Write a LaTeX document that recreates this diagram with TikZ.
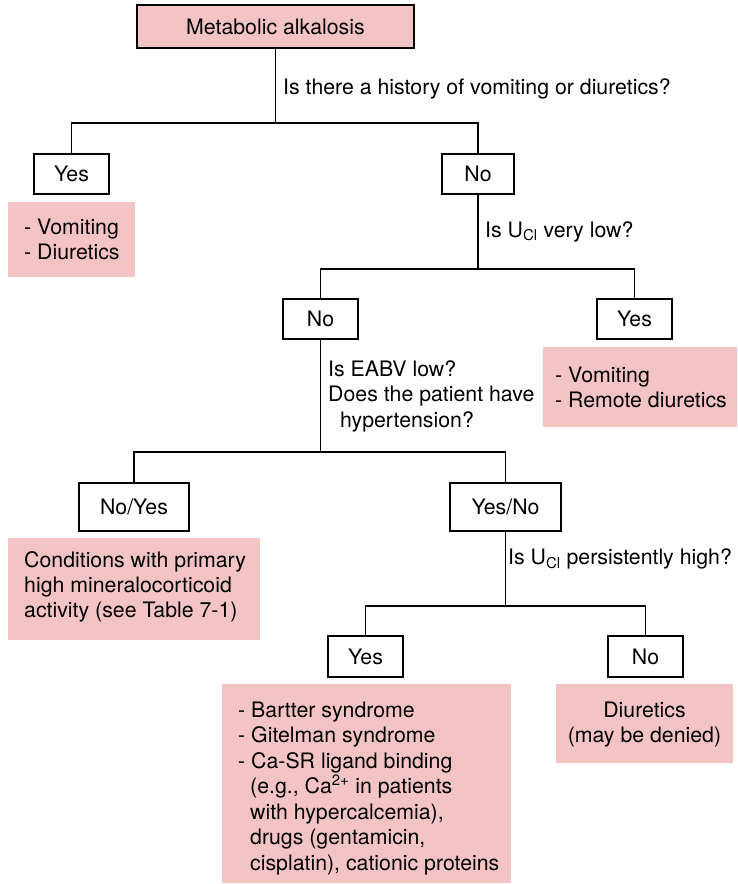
\documentclass[tikz,border=0pt]{standalone}
\usepackage{fontspec}
\setmainfont{TeX Gyre Heros}
\definecolor{pinkbg}{RGB}{244,196,196}
\begin{document}
\begin{tikzpicture}[x=1pt,y=-1pt,
  every node/.style={font=\fontsize{21.3}{25.5}\selectfont, inner sep=0pt},
  box/.style={draw=black, line width=1.3pt, fill=white, text height=15pt, text depth=0pt},
  pinkbox/.style={fill=pinkbg, anchor=north west},
  txt/.style={anchor=base west},
  ctxt/.style={anchor=base},
  conn/.style={line width=1.3pt}]
\useasboundingbox (0,0) rectangle (737,884);

% decision boxes
\node[box, fill=pinkbg, minimum width=277pt, minimum height=43pt] (top) at (275.5,26.5) {Metabolic alkalosis};
\node[box, minimum width=75pt, minimum height=40pt] (yes1) at (71.5,174) {Yes};
\node[box, minimum width=72pt, minimum height=40pt] (no1) at (478,174) {No};
\node[box, minimum width=75pt, minimum height=40pt] (no2) at (320.5,319) {No};
\node[box, minimum width=75pt, minimum height=40pt] (yes2) at (634.5,319) {Yes};
\node[box, minimum width=110pt, minimum height=48pt] (noyes) at (134,507) {No/Yes};
\node[box, minimum width=111pt, minimum height=48pt] (yesno) at (505.5,507) {Yes/No};
\node[box, minimum width=75pt, minimum height=41pt] (yes4) at (365.5,656.5) {Yes};
\node[box, minimum width=75pt, minimum height=41pt] (no4) at (645.5,656.5) {No};

% pink result boxes
\node[pinkbox, minimum width=127pt, minimum height=75pt] (p1) at (8,202) {};
\node[pinkbox, minimum width=194pt, minimum height=80pt] (p2) at (543,347) {};
\node[pinkbox, minimum width=252pt, minimum height=102pt] (p3) at (8,538) {};
\node[pinkbox, minimum width=289pt, minimum height=199pt] (p4) at (222,684) {};
\node[pinkbox, minimum width=177pt, minimum height=79pt] (p5) at (556,684) {};

% questions
\node[txt] (q1) at (283,94) {Is there a history of vomiting or diuretics?};
\node[txt] (q2) at (485,237) {Is U\textsubscript{Cl} very low?};
\node[txt] (q3a) at (328,376) {Is EABV low?};
\node[txt] (q3b) at (328,401.5) {Does the patient have};
\node[txt] (q3c) at (340,427) {hypertension?};
\node[txt] (q4) at (508,564) {Is U\textsubscript{Cl} persistently high?};

% result texts
\node[txt] (p1a) at (24,234) {- Vomiting};
\node[txt] (p1b) at (24,259) {- Diuretics};
\node[txt] (p2a) at (555,382) {- Vomiting};
\node[txt] (p2b) at (555,407) {- Remote diuretics};
\node[txt] (p3a) at (24,567) {Conditions with primary};
\node[txt] (p3b) at (24,592) {high mineralocorticoid};
\node[txt] (p3c) at (24,617) {activity (see Table 7-1)};
\node[txt] (p4a) at (238,717) {- Bartter syndrome};
\node[txt] (p4b) at (238,742.5) {- Gitelman syndrome};
\node[txt] (p4c) at (238,768) {- Ca-SR ligand binding};
\node[txt] (p4d) at (250,793.5) {(e.g., Ca\textsuperscript{2+} in patients};
\node[txt] (p4e) at (250,819) {with hypercalcemia),};
\node[txt] (p4f) at (250,844.5) {drugs (gentamicin,};
\node[txt] (p4g) at (250,870) {cisplatin), cationic proteins};
\node[ctxt] (p5a) at (644.5,717) {Diuretics};
\node[ctxt] (p5b) at (644.5,742.5) {(may be denied)};

% connectors
\coordinate (j1) at (275.5,123);
\coordinate (j2) at (478,269);
\coordinate (j3) at (320.5,452);
\coordinate (j4) at (505.5,606);
\draw[conn] (top.south) -- (j1);
\draw[conn] (yes1.north) |- (j1) -| (no1.north);
\draw[conn] (no1.south) -- (j2);
\draw[conn] (no2.north) |- (j2) -| (yes2.north);
\draw[conn] (no2.south) -- (j3);
\draw[conn] (noyes.north) |- (j3) -| (yesno.north);
\draw[conn] (yesno.south) -- (j4);
\draw[conn] (yes4.north) |- (j4) -| (no4.north);
\end{tikzpicture}
\end{document}
